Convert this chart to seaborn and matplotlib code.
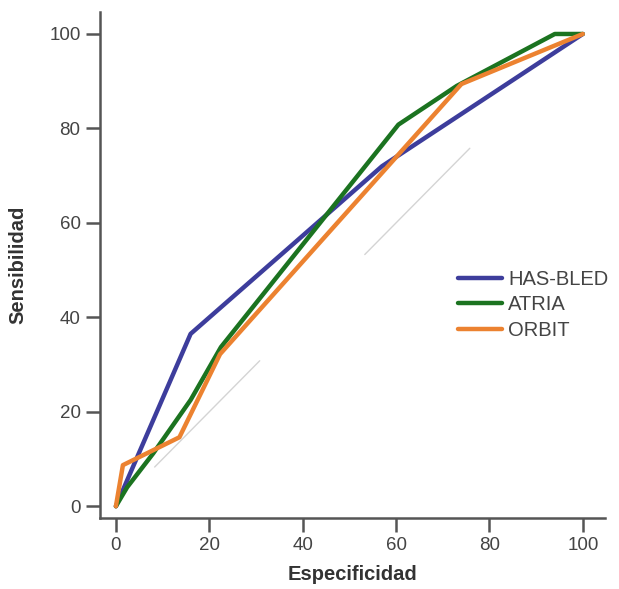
import pandas as pd
import matplotlib
matplotlib.use("Agg")
import matplotlib.pyplot as plt
import seaborn as sns

# ── Data ──────────────────────────────────────────────────────────────────────
has_bled_x = [0, 16, 57, 100]
has_bled_y = [0, 36.5, 72, 100]

atria_x = [0, 2.4, 8, 16, 22.5, 60.5, 73, 94, 100]
atria_y = [0, 4, 11.2, 22.5, 33.7, 80.8, 89, 100, 100]

orbit_x = [0, 1.5, 13.6, 22.3, 74, 100]
orbit_y = [0, 8.7, 14.6, 32.2, 89.4, 100]

ref_segments = [(8.3, 30.8), (53.3, 75.8)]   # pieces of the y = x diagonal

series_names = ["HAS-BLED", "ATRIA", "ORBIT"]
colors = {"HAS-BLED": "#3d3d9c", "ATRIA": "#1b7320", "ORBIT": "#ec8230"}

x_ticks = [0, 20, 40, 60, 80, 100]
y_ticks = [0, 20, 40, 60, 80, 100]

# ── Build long table ──────────────────────────────────────────────────────────
frames = []
for name, xs, ys in zip(series_names,
                        [has_bled_x, atria_x, orbit_x],
                        [has_bled_y, atria_y, orbit_y]):
    frames.append(pd.DataFrame({"esp": xs, "sens": ys, "score": name}))
df = pd.concat(frames, ignore_index=True)

# ── Plot ──────────────────────────────────────────────────────────────────────
sns.set_style("white")
plt.rcParams["font.family"] = ["Liberation Sans", "DejaVu Sans"]

fig = plt.figure(figsize=(6.19, 5.89), dpi=100)
ax = fig.add_axes([0.1616, 0.1205, 0.8154, 0.8595])

for a, b in ref_segments:
    ax.plot([a, b], [a, b], color="#d4d4d4", lw=1.0, zorder=1)

sns.lineplot(data=df, x="esp", y="sens", hue="score", hue_order=series_names,
             palette=colors, sort=False, estimator=None, lw=3.2, ax=ax,
             zorder=3)

ax.set_xlim(-3.4, 104.7)
ax.set_ylim(-2.5, 104.7)
ax.set_xticks(x_ticks)
ax.set_yticks(y_ticks)
ax.set_xlabel("Especificidad", fontsize=14.5, fontweight="bold", color="#333333")
ax.set_ylabel("Sensibilidad", fontsize=14.5, fontweight="bold", color="#333333")
ax.xaxis.set_label_coords(0.5, -0.092)
ax.yaxis.set_label_coords(-0.143, 0.5)

for side in ["top", "right"]:
    ax.spines[side].set_visible(False)
for side in ["left", "bottom"]:
    ax.spines[side].set_color("#555555")
    ax.spines[side].set_linewidth(1.8)
ax.tick_params(axis="both", direction="out", length=10, width=1.8,
               color="#555555", labelsize=13.5, labelcolor="#444444",
               left=True, bottom=True, pad=4)

leg = ax.legend(loc="center left", bbox_to_anchor=(0.709, 0.421),
                frameon=False, fontsize=14.5, handlelength=2.2,
                handletextpad=0.3, labelspacing=0.32, borderpad=0,
                borderaxespad=0, title=None)
for line in leg.get_lines():
    line.set_linewidth(3.2)
for txt in leg.get_texts():
    txt.set_color("#444444")

fig.savefig("out.png", dpi=100)
